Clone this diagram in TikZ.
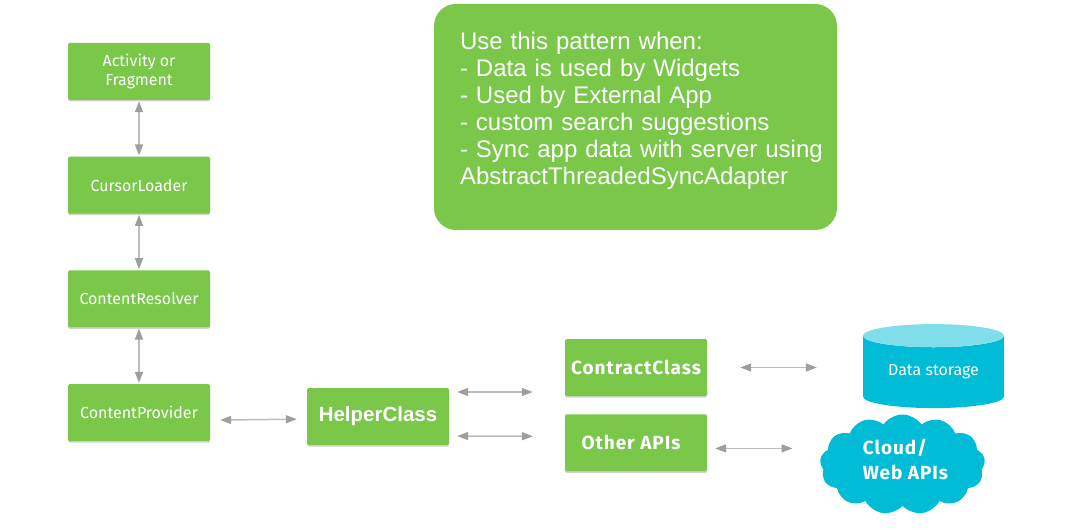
\documentclass[tikz,border=0pt]{standalone}
\usepackage{fontspec}
\usepackage{xcolor}
\setmainfont{Liberation Sans}
\newfontfamily\boxfont{Fira Sans}
\newfontfamily\widefont[LetterSpace=5]{Fira Sans}
\definecolor{boxgreen}{HTML}{7AC74A}
\definecolor{storeblue}{HTML}{00BCD7}
\definecolor{storetop}{HTML}{80DEEA}
\definecolor{linegray}{HTML}{BDBDBD}
\definecolor{tipgray}{HTML}{9E9E9E}
\usetikzlibrary{shapes.geometric, shapes.symbols, arrows.meta, positioning, shadows}

\begin{document}
\begin{tikzpicture}[x=1pt, y=-1pt,
box/.style={rectangle, fill=boxgreen, rounded corners=1.5pt, minimum width=142pt, minimum height=57pt, inner sep=0pt, align=center, text=white, font=\boxfont\fontsize{16}{19}\selectfont, drop shadow={shadow xshift=0pt, shadow yshift=-1.5pt, fill=black!35}},
boldbox/.style={box, font=\widefont\fontsize{19}{22}\selectfont\bfseries},
arr/.style={{Triangle[length=11pt, width=8pt, color=tipgray]}-{Triangle[length=11pt, width=8pt, color=tipgray]}, draw=linegray, line width=1.5pt}
]
\useasboundingbox (0,0) rectangle (1092,529);
\node[rectangle, fill=boxgreen, rounded corners=22pt, minimum width=403pt, minimum height=226pt, inner xsep=26pt, inner ysep=0pt, text width=351pt, align=left, text=white, font=\fontsize{24}{27}\selectfont] (note) at (635.5,117) {Use this pattern when:\\- Data is used by Widgets\\- Used by External App\\- custom search suggestions\\- \mbox{Sync app data with server using}\\AbstractThreadedSyncAdapter\\[-10pt]~};
\node[box] (activity) at (139,71.5) {Activity or\\Fragment};
\node[box, below=56.3pt of activity] (loader) {CursorLoader};
\node[box, below=56.3pt of loader] (resolver) {ContentResolver};
\node[box, below=56.3pt of resolver] (provider) {ContentProvider};
\node[boldbox, font=\fontsize{20.5}{24}\selectfont\bfseries] (helper) at (378,416.5) {HelperClass};
\node[boldbox] (contract) at (636,367.5) {ContractClass};
\node[boldbox, below=18pt of contract] (other) {Other APIs\hspace*{10pt}};
\node[cylinder, shape border rotate=90, aspect=0.255, cylinder uses custom fill, cylinder body fill=storeblue, cylinder end fill=storetop, minimum width=141pt, minimum height=84pt, inner sep=0pt, text=white, font=\boxfont\fontsize{16}{19}\selectfont] (store) at (933.5,372) {Data storage};
\node[cloud, cloud puffs=13, cloud puff arc=110, aspect=1.7, fill=storeblue, minimum width=165pt, minimum height=100pt, inner sep=0pt, align=left, text=white, font=\widefont\fontsize{19}{25}\selectfont\bfseries] (web) at (902.5,464.5) {\hspace*{6pt}Cloud/\\\hspace*{6pt}Web APIs\\[-14pt]~};
\draw[arr, shorten <=1pt, shorten >=1pt] (activity) -- (loader);
\draw[arr, shorten <=1pt, shorten >=1pt] (loader) -- (resolver);
\draw[arr, shorten <=1pt, shorten >=1pt] (resolver) -- (provider);
\draw[arr, shorten <=10pt, shorten >=10pt] ([yshift=-7.6pt]provider.east) -- ([yshift=-2.5pt]helper.west);
\draw[arr, shorten <=8pt, shorten >=32pt] ([yshift=24.5pt]helper.east) -- ([yshift=-24.5pt]contract.west);
\draw[arr, shorten <=8pt, shorten >=32pt] ([yshift=-19.5pt]helper.east) -- ([yshift=6.5pt]other.west);
\draw[arr, shorten <=33pt, shorten >=46pt] (contract.east) -- (contract.east -| store.west);
\draw[arr, shorten <=8pt, shorten >=28pt] ([yshift=-5.5pt]other.east) -- ([yshift=-5.5pt]other.east -| web.west);
\end{tikzpicture}
\end{document}
